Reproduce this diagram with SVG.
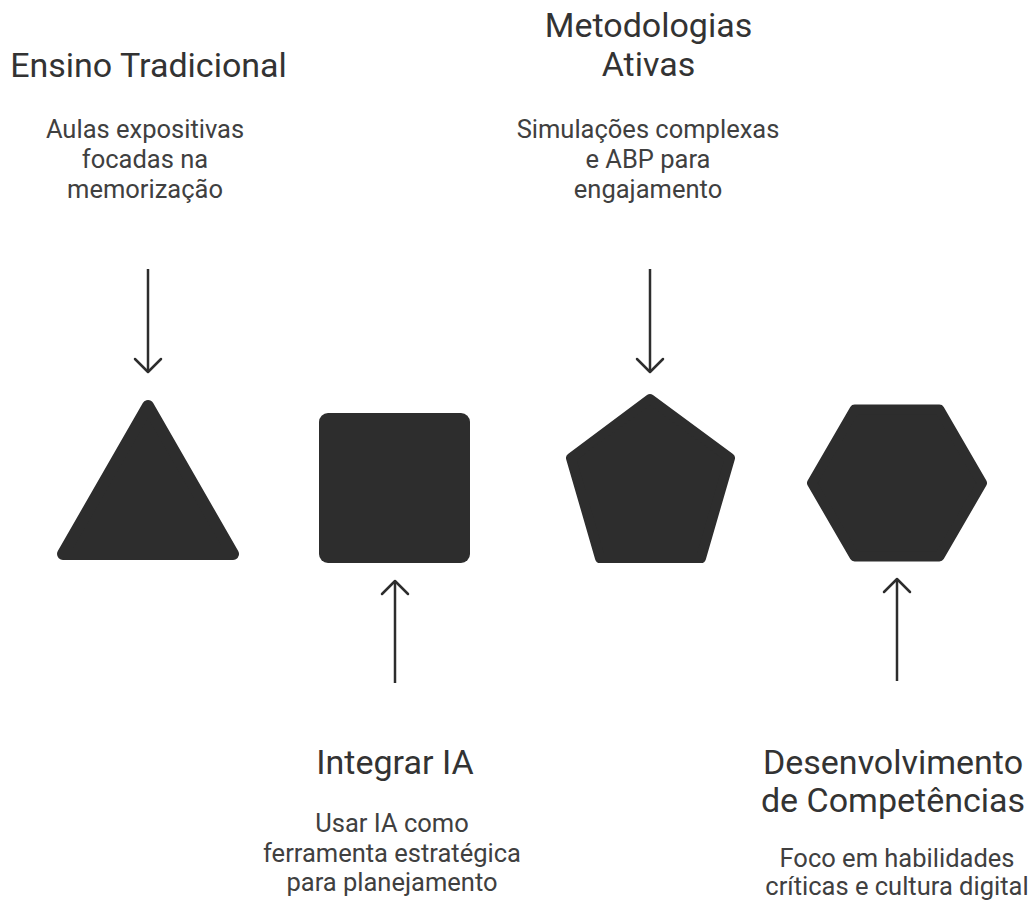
<svg xmlns="http://www.w3.org/2000/svg" width="1033" height="905" viewBox="0 0 1033 905">
<style>
.title{font-family:Roboto,"Liberation Sans",sans-serif;font-size:34px;fill:#333333;text-anchor:middle}
.desc{font-family:Roboto,"Liberation Sans",sans-serif;font-size:25.5px;fill:#404040;text-anchor:middle}
.shape{fill:#2d2d2d;stroke:#2d2d2d;stroke-linejoin:round}
.conn{stroke:#2d2d2d;stroke-width:2.5;fill:none;marker-end:url(#arr)}
</style>
<defs>
<marker id="arr" viewBox="-16 -16 32 32" markerWidth="32" markerHeight="32" refX="0" refY="0" orient="auto" markerUnits="userSpaceOnUse">
<path d="M-13,-13 L0,0 L-13,13" fill="none" stroke="#2d2d2d" stroke-width="2.5" stroke-linecap="round" stroke-linejoin="round"/>
</marker>
</defs>
<rect width="1033" height="905" fill="#ffffff"/>
<g id="connectors">
<line class="conn" x1="148" y1="269" x2="148" y2="372"/>
<line class="conn" x1="395" y1="683" x2="395" y2="581"/>
<line class="conn" x1="650" y1="269" x2="650" y2="372"/>
<line class="conn" x1="897" y1="681" x2="897" y2="579"/>
</g>
<g id="ensino-tradicional">
<polygon class="shape" stroke-width="12" points="148,406 233,554 63,554"/>
<text class="title" x="148.5" y="77">Ensino Tradicional</text>
<text class="desc" x="145" y="138">Aulas expositivas</text>
<text class="desc" x="145" y="168">focadas na</text>
<text class="desc" x="145" y="198">memorização</text>
</g>
<g id="integrar-ia">
<rect class="shape" stroke-width="0" x="319" y="413" width="151" height="150" rx="9"/>
<text class="title" x="395" y="774">Integrar IA</text>
<text class="desc" x="392" y="832">Usar IA como</text>
<text class="desc" x="392" y="862">ferramenta estratégica</text>
<text class="desc" x="392" y="891">para planejamento</text>
</g>
<g id="metodologias-ativas">
<polygon class="shape" stroke-width="10" points="650,399 730,458 701,558 600,558 571,458"/>
<text class="title" x="648.5" y="37">Metodologias</text>
<text class="title" x="648.5" y="76">Ativas</text>
<text class="desc" x="648" y="138">Simulações complexas</text>
<text class="desc" x="648" y="168">e ABP para</text>
<text class="desc" x="648" y="198">engajamento</text>
</g>
<g id="desenvolvimento-competencias">
<polygon class="shape" stroke-width="10" points="812,483 854.6,409.5 939.4,409.5 982,483 939.4,556.5 854.6,556.5"/>
<text class="title" x="893" y="774">Desenvolvimento</text>
<text class="title" x="893" y="812">de Competências</text>
<text class="desc" x="897" y="867">Foco em habilidades</text>
<text class="desc" x="897" y="895">críticas e cultura digital</text>
</g>
</svg>
